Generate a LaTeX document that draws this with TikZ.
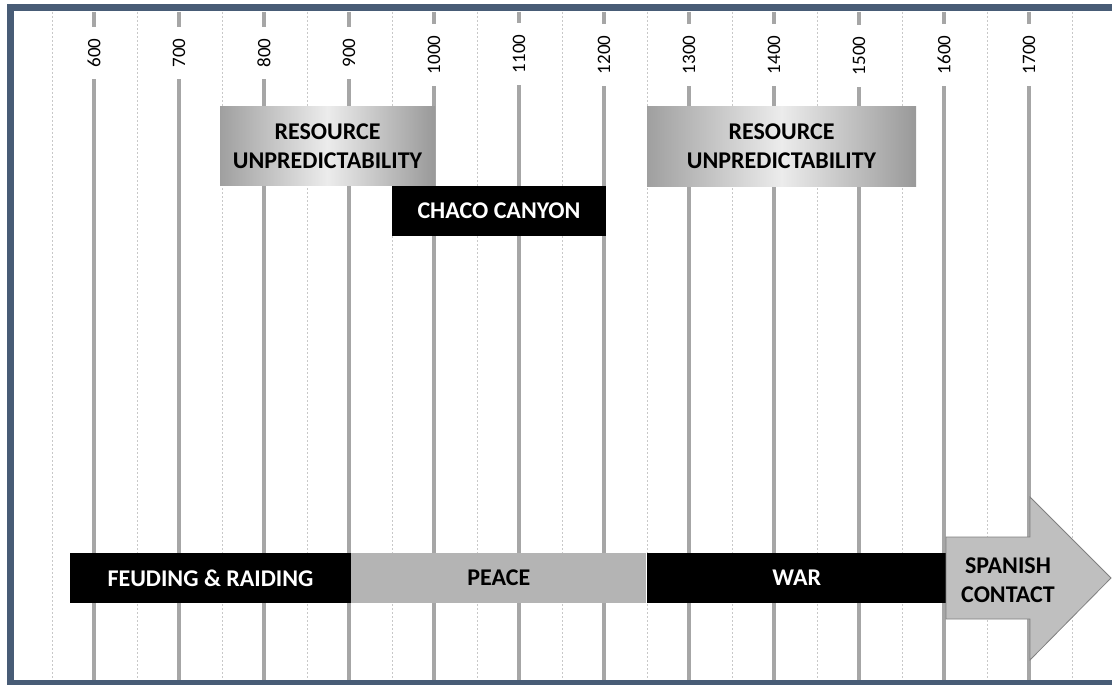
\documentclass[tikz,border=0pt]{standalone}
\usepackage{fontspec}
\setmainfont{Carlito}
\usepackage{tikz}
\usetikzlibrary{positioning}

\definecolor{framecol}{RGB}{72,92,118}
\definecolor{gridcol}{RGB}{166,166,166}
\definecolor{dotcol}{RGB}{200,200,200}
\definecolor{peacecol}{RGB}{180,180,180}
\definecolor{arrowcol}{RGB}{191,191,191}
\definecolor{arrowedge}{RGB}{128,128,128}

\tikzset{
  yearline/.style={draw=gridcol, line width=3.5pt},
  halfline/.style={draw=dotcol, line width=1pt, dash pattern=on 2pt off 2pt},
  yearlabel/.style={rotate=90, fill=white, inner xsep=12pt, inner ysep=1pt,
    font=\fontsize{19}{19}\selectfont},
  period/.style={minimum height=50pt, inner sep=0pt, align=center,
    font=\fontsize{24}{29}\selectfont\bfseries},
  blackbox/.style={period, fill=black, text=white},
  greybox/.style={period, fill=peacecol, text=black},
  shadebox/.style={period, left color=gray!75, right color=gray!80,
    middle color=gray!15, text=black},
  arrowbox/.style={fill=arrowcol, draw=arrowedge, line width=0.8pt}
}

\begin{document}
\begin{tikzpicture}[x=1pt, y=-1pt]
  \useasboundingbox (0,0) rectangle (1112,685);
  \clip (0,0) rectangle (1112,685);
  \fill[white] (0,0) rectangle (1112,685);

  % grid
  \foreach \x in {52,137,...,1072}
    \draw[halfline] (\x,12) -- (\x,681);
  \foreach \x in {94,179,...,1030}
    \draw[yearline] (\x,12) -- (\x,681);

  \node (y600)  [yearlabel] at (94,53)   {600};
  \node (y700)  [yearlabel] at (179,53)  {700};
  \node (y800)  [yearlabel] at (264,53)  {800};
  \node (y900)  [yearlabel] at (349,53)  {900};
  \node (y1000) [yearlabel] at (434,55)  {1000};
  \node (y1100) [yearlabel] at (519,54)  {1100};
  \node (y1200) [yearlabel] at (604,55)  {1200};
  \node (y1300) [yearlabel] at (689,55)  {1300};
  \node (y1400) [yearlabel] at (774,55)  {1400};
  \node (y1500) [yearlabel] at (859,56)  {1500};
  \node (y1600) [yearlabel] at (944,55)  {1600};
  \node (y1700) [yearlabel] at (1029,55) {1700};

  % upper bars
  \node (res1) [shadebox, minimum width=215pt, minimum height=78pt] at (327.5,146)
    {RESOURCE\\UNPREDICTABILITY};
  \node (res2) [shadebox, minimum width=269pt, minimum height=79pt] at (781.5,146.5)
    {RESOURCE\\UNPREDICTABILITY};
  \node (chaco) [blackbox, minimum width=214pt] at (499,211) {CHACO CANYON};

  % lower bars
  \node (feud)  [blackbox, minimum width=281pt] at (210.5,578) {FEUDING \& RAIDING};
  \node (peace) [greybox, minimum width=295pt, right=0pt of feud] {PEACE};
  \node (war)   [blackbox, minimum width=300pt, right=0pt of peace] {WAR};

  \draw[arrowbox] (946,537) -- (1030,537) -- (1030,497) -- (1111,578)
    -- (1030,660) -- (1030,619) -- (946,619) -- cycle;
  \node (spain) [period, text=black] at (1008,580) {SPANISH\\CONTACT};

  % frame
  \draw[framecol, line width=7pt] (10,8) rectangle (1130,683);
\end{tikzpicture}
\end{document}
